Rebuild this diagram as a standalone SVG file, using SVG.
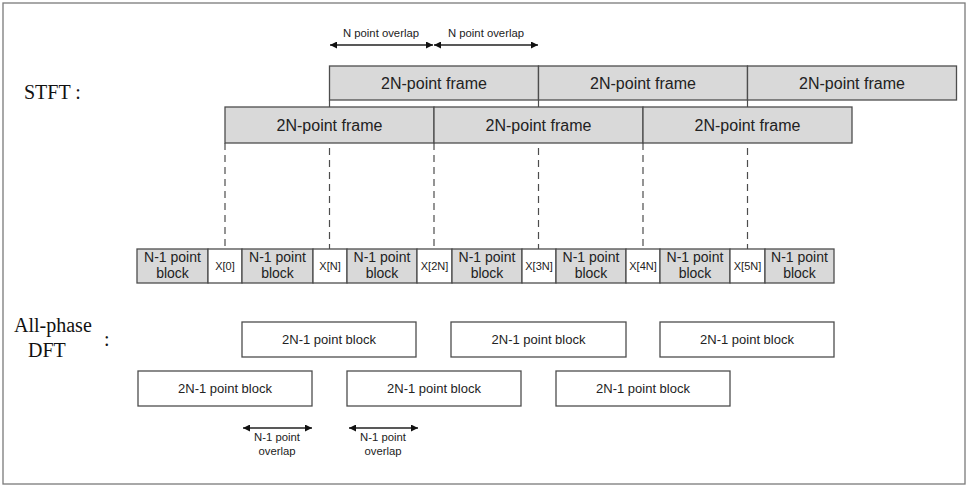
<svg xmlns="http://www.w3.org/2000/svg" width="971" height="486" viewBox="0 0 971 486">
  <style>
    .frame { fill: #d9d9d9; stroke: #4d4d4d; stroke-width: 1.3; }
    .cell { fill: #d9d9d9; stroke: #4d4d4d; stroke-width: 1.3; }
    .xcell { fill: #ffffff; stroke: #4d4d4d; stroke-width: 1.3; }
    .blk { fill: #ffffff; stroke: #4d4d4d; stroke-width: 1.3; }
    .dash { stroke: #4d4d4d; stroke-width: 1.2; stroke-dasharray: 7 5; fill: none; }
    .arr { stroke: #222; stroke-width: 1.3; fill: none; marker-start: url(#ah-start); marker-end: url(#ah-end); }
    .sans { font-family: "Liberation Sans", Arial, sans-serif; fill: #222; text-anchor: middle; }
    .ft { font-size: 16px; }
    .ct { font-size: 14px; }
    .xt { font-size: 11px; }
    .bt { font-size: 13px; }
    .st { font-size: 11.3px; }
    .serif { font-family: "Liberation Serif", "Times New Roman", serif; fill: #111; font-size: 20px; }
  </style>
  <defs>
    <marker id="ah-end" viewBox="0 0 10 10" refX="10" refY="5" markerWidth="7" markerHeight="7" markerUnits="userSpaceOnUse" orient="auto">
      <path d="M0,0 L10,5 L0,10 z" fill="#111"/>
    </marker>
    <marker id="ah-start" viewBox="0 0 10 10" refX="0" refY="5" markerWidth="7" markerHeight="7" markerUnits="userSpaceOnUse" orient="auto">
      <path d="M10,0 L0,5 L10,10 z" fill="#111"/>
    </marker>
  </defs>

  <rect width="971" height="486" fill="#ffffff"/>
  <rect x="3" y="3" width="962" height="481" fill="none" stroke="#7a7a7a" stroke-width="1.3"/>

  <!-- section labels -->
  <text class="serif" x="24" y="99">STFT :</text>
  <text class="serif" x="14" y="332">All-phase</text>
  <text class="serif" x="28" y="357">DFT</text>
  <text class="serif" x="104" y="346">:</text>

  <!-- connectors: dashed guides and overlap arrows -->
  <g id="connectors">
    <line class="dash" x1="225" y1="143" x2="225" y2="249"/>
    <line class="dash" x1="329.5" y1="100" x2="329.5" y2="249"/>
    <line class="dash" x1="434" y1="143" x2="434" y2="249"/>
    <line class="dash" x1="538.5" y1="100" x2="538.5" y2="249"/>
    <line class="dash" x1="643" y1="143" x2="643" y2="249"/>
    <line class="dash" x1="747.5" y1="100" x2="747.5" y2="249"/>

    <line class="arr" x1="330" y1="45" x2="433" y2="45"/>
    <line class="arr" x1="434" y1="45" x2="538" y2="45"/>
    <line class="arr" x1="243" y1="428" x2="312" y2="428"/>
    <line class="arr" x1="349" y1="428" x2="418" y2="428"/>
  </g>

  <!-- overlap labels -->
  <g id="stft-overlap-labels">
    <text class="sans st" x="381" y="37">N point overlap</text>
    <text class="sans st" x="486" y="37">N point overlap</text>
  </g>
  <g id="apdft-overlap-labels">
    <text class="sans st" x="277" y="441">N-1 point</text>
    <text class="sans st" x="277" y="455">overlap</text>
    <text class="sans st" x="383" y="441">N-1 point</text>
    <text class="sans st" x="383" y="455">overlap</text>
  </g>

  <!-- STFT frames, lower row -->
  <g id="frame-b1"><rect class="frame" x="225" y="107" width="209" height="36"/><text class="sans ft" x="329.5" y="131">2N-point frame</text></g>
  <g id="frame-b2"><rect class="frame" x="434" y="107" width="209" height="36"/><text class="sans ft" x="538.5" y="131">2N-point frame</text></g>
  <g id="frame-b3"><rect class="frame" x="643" y="107" width="209" height="36"/><text class="sans ft" x="747.5" y="131">2N-point frame</text></g>

  <!-- STFT frames, upper row -->
  <g id="frame-t1"><rect class="frame" x="329.5" y="66" width="209" height="34"/><text class="sans ft" x="434" y="89">2N-point frame</text></g>
  <g id="frame-t2"><rect class="frame" x="538.5" y="66" width="209" height="34"/><text class="sans ft" x="643" y="89">2N-point frame</text></g>
  <g id="frame-t3"><rect class="frame" x="747.5" y="66" width="209" height="34"/><text class="sans ft" x="852" y="89">2N-point frame</text></g>

  <!-- sample row -->
  <g id="blk-0"><rect class="cell" x="137" y="249" width="71" height="34"/><text class="sans ct" x="172.5" y="262">N-1 point</text><text class="sans ct" x="172.5" y="278">block</text></g>
  <g id="x-0"><rect class="xcell" x="208" y="249" width="34" height="34"/><text class="sans xt" x="225" y="270">X[0]</text></g>
  <g id="blk-1"><rect class="cell" x="242" y="249" width="71" height="34"/><text class="sans ct" x="277.5" y="262">N-1 point</text><text class="sans ct" x="277.5" y="278">block</text></g>
  <g id="x-1"><rect class="xcell" x="313" y="249" width="34" height="34"/><text class="sans xt" x="330" y="270">X[N]</text></g>
  <g id="blk-2"><rect class="cell" x="347" y="249" width="70" height="34"/><text class="sans ct" x="382" y="262">N-1 point</text><text class="sans ct" x="382" y="278">block</text></g>
  <g id="x-2"><rect class="xcell" x="417" y="249" width="35" height="34"/><text class="sans xt" x="434.5" y="270">X[2N]</text></g>
  <g id="blk-3"><rect class="cell" x="452" y="249" width="70" height="34"/><text class="sans ct" x="487" y="262">N-1 point</text><text class="sans ct" x="487" y="278">block</text></g>
  <g id="x-3"><rect class="xcell" x="522" y="249" width="34" height="34"/><text class="sans xt" x="539" y="270">X[3N]</text></g>
  <g id="blk-4"><rect class="cell" x="556" y="249" width="70" height="34"/><text class="sans ct" x="591" y="262">N-1 point</text><text class="sans ct" x="591" y="278">block</text></g>
  <g id="x-4"><rect class="xcell" x="626" y="249" width="34" height="34"/><text class="sans xt" x="643" y="270">X[4N]</text></g>
  <g id="blk-5"><rect class="cell" x="660" y="249" width="70" height="34"/><text class="sans ct" x="695" y="262">N-1 point</text><text class="sans ct" x="695" y="278">block</text></g>
  <g id="x-5"><rect class="xcell" x="730" y="249" width="35" height="34"/><text class="sans xt" x="747.5" y="270">X[5N]</text></g>
  <g id="blk-6"><rect class="cell" x="765" y="249" width="69" height="34"/><text class="sans ct" x="799.5" y="262">N-1 point</text><text class="sans ct" x="799.5" y="278">block</text></g>

  <!-- all-phase blocks, upper row -->
  <g id="ap-t1"><rect class="blk" x="242" y="322" width="174" height="35"/><text class="sans bt" x="329" y="344">2N-1 point block</text></g>
  <g id="ap-t2"><rect class="blk" x="451" y="322" width="175" height="35"/><text class="sans bt" x="538.5" y="344">2N-1 point block</text></g>
  <g id="ap-t3"><rect class="blk" x="660" y="322" width="174" height="35"/><text class="sans bt" x="747" y="344">2N-1 point block</text></g>

  <!-- all-phase blocks, lower row -->
  <g id="ap-b1"><rect class="blk" x="138" y="371" width="174" height="35"/><text class="sans bt" x="225" y="393">2N-1 point block</text></g>
  <g id="ap-b2"><rect class="blk" x="347" y="371" width="174" height="35"/><text class="sans bt" x="434" y="393">2N-1 point block</text></g>
  <g id="ap-b3"><rect class="blk" x="556" y="371" width="174" height="35"/><text class="sans bt" x="643" y="393">2N-1 point block</text></g>
</svg>
